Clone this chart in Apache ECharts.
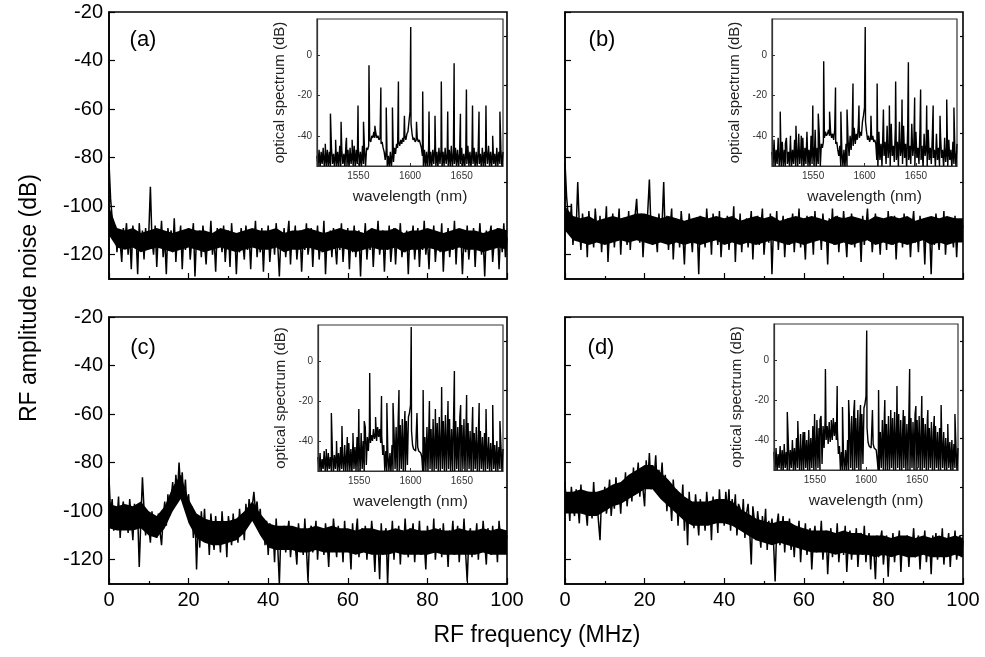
<!DOCTYPE html>
<html><head><meta charset="utf-8">
<script src="https://cdn.jsdelivr.net/npm/echarts@6/dist/echarts.min.js"></script>
<style>html,body{margin:0;padding:0;background:#fff}#c{width:985px;height:657px}</style>
</head><body><div id="c"></div>
<script>
const FONT = '"Liberation Sans", Arial, sans-serif';

// ---------- axes / ticks ----------
const rfStep = 0.4;              // MHz between RF noise samples
const coreStep = 2;              // MHz between dense-band edge readings
const wlStart = 1510, wlStep = 1; // nm, optical floor samples
const noiseTicks = [-120, -100, -80, -60, -40, -20];
const noiseMinorTicks = [-110, -90, -70, -50, -30];
const wlTicks = [1550, 1600, 1650];
const specTicks = [-40, -20, 0];
const panelLabels = ['(a)', '(b)', '(c)', '(d)'];

// ---------- RF amplitude noise (dB), x = i * 0.4 MHz ----------
const noiseA = [
-82,-97,-105,-113,-108,-119,-110,-115,-123,-109,
-114,-107,-120,-111,-126,-108,-116,-112,-128,-107,
-117,-110,-122,-109,-118,-111,-92,-114,-120,-108,
-125,-111,-117,-106,-121,-113,-128,-109,-115,-110,
-119,-105,-123,-112,-116,-108,-126,-111,-118,-113,
-109,-122,-114,-107,-129,-112,-117,-110,-121,-108,
-115,-124,-111,-118,-106,-120,-113,-127,-109,-116,
-112,-119,-108,-123,-114,-110,-125,-107,-117,-111,
-128,-113,-119,-109,-115,-122,-108,-118,-112,-126,
-110,-116,-106,-121,-113,-119,-109,-127,-111,-117,
-108,-123,-114,-110,-120,-107,-116,-129,-112,-118,
-109,-121,-113,-106,-124,-111,-117,-108,-122,-114,
-110,-127,-112,-118,-107,-120,-115,-109,-125,-111,
-116,-108,-122,-113,-119,-106,-128,-112,-117,-110,
-121,-109,-115,-124,-111,-118,-107,-123,-113,-116,
-109,-126,-112,-119,-108,-121,-114,-110,-129,-111,
-117,-107,-122,-113,-118,-109,-125,-112,-116,-106,
-120,-114,-110,-127,-111,-118,-108,-123,-115,-109,
-124,-112,-117,-107,-121,-113,-119,-110,-128,-111,
-116,-108,-122,-114,-109,-125,-112,-118,-106,-120,
-113,-126,-110,-117,-108,-123,-114,-111,-119,-107,
-127,-112,-116,-109,-121,-113,-118,-106,-124,-111,
-115,-110,-128,-112,-119,-108,-122,-114,-117,-109,
-125,-111,-116,-107,-120,-113,-129,-110,-118,-112,
-108,-123,-114,-117,-109,-126,-111,-119,-107,-121,
-113];
const noiseB = [
-82,-96,-104,-111,-99,-116,-106,-110,-90,-108,
-118,-103,-112,-106,-121,-102,-113,-108,-117,-101,
-110,-115,-104,-119,-107,-112,-100,-123,-109,-114,
-103,-117,-108,-111,-101,-120,-106,-113,-109,-116,
-102,-118,-107,-112,-104,-97,-110,-115,-103,-121,
-108,-113,-102,-89,-109,-116,-105,-111,-119,-103,
-112,-107,-90,-114,-104,-118,-109,-101,-122,-108,
-113,-106,-117,-102,-111,-124,-107,-115,-103,-110,
-119,-105,-112,-108,-128,-104,-114,-109,-117,-101,
-111,-106,-120,-103,-113,-108,-116,-102,-121,-110,
-107,-114,-104,-118,-109,-112,-100,-123,-106,-115,
-103,-119,-108,-111,-105,-117,-110,-102,-122,-107,
-113,-104,-116,-109,-101,-120,-111,-106,-115,-103,
-128,-108,-114,-102,-118,-107,-112,-104,-121,-109,
-105,-116,-110,-103,-119,-108,-113,-101,-117,-106,
-111,-122,-104,-115,-109,-107,-120,-102,-114,-110,
-106,-118,-103,-112,-108,-124,-105,-113,-101,-116,
-109,-104,-119,-107,-114,-102,-111,-121,-106,-115,
-103,-110,-117,-105,-112,-108,-123,-104,-116,-109,
-101,-114,-106,-119,-110,-103,-115,-108,-120,-105,
-112,-107,-118,-102,-113,-109,-116,-104,-122,-108,
-111,-105,-117,-103,-114,-110,-106,-121,-109,-102,
-115,-108,-119,-104,-112,-107,-124,-105,-113,-110,
-128,-106,-116,-103,-111,-118,-108,-114,-102,-120,
-109,-105,-115,-110,-117,-104,-121,-107,-113,-111,
-108];
const noiseC = [
-86,-101,-95,-108,-98,-104,-94,-111,-100,-96,
-106,-99,-109,-95,-103,-112,-97,-105,-101,-123,
-104,-86,-99,-110,-102,-107,-113,-100,-109,-104,
-111,-101,-108,-114,-103,-96,-106,-93,-102,-95,
-88,-98,-85,-93,-80,-91,-84,-96,-87,-100,
-93,-105,-98,-111,-101,-124,-103,-115,-100,-110,
-99,-113,-104,-118,-101,-109,-116,-102,-112,-106,
-117,-100,-110,-105,-119,-102,-108,-114,-101,-111,
-104,-113,-99,-108,-103,-112,-97,-106,-95,-101,
-98,-92,-100,-96,-105,-99,-110,-103,-114,-104,
-118,-105,-112,-107,-121,-103,-115,-130,-108,-113,
-106,-117,-109,-104,-119,-111,-107,-114,-122,-105,
-112,-108,-118,-103,-115,-129,-110,-106,-117,-111,
-104,-120,-109,-114,-107,-118,-105,-112,-123,-108,
-115,-103,-111,-119,-106,-113,-109,-121,-104,-116,
-108,-112,-124,-105,-117,-110,-103,-119,-111,-107,
-114,-106,-120,-109,-116,-104,-112,-125,-108,-113,
-128,-105,-118,-110,-107,-130,-111,-115,-104,-120,
-109,-113,-106,-122,-108,-116,-103,-114,-119,-107,
-111,-105,-121,-110,-115,-104,-118,-109,-113,-124,
-106,-112,-108,-117,-103,-120,-111,-114,-107,-119,
-105,-116,-110,-123,-108,-113,-104,-118,-112,-106,
-121,-109,-115,-103,-117,-129,-111,-107,-119,-110,
-114,-105,-120,-108,-116,-104,-113,-122,-107,-111,
-118,-106,-115,-109,-121,-104,-112,-117,-108,-114,
-110];
const noiseD = [
-88,-100,-93,-104,-90,-98,-102,-91,-97,-105,
-89,-101,-94,-99,-106,-92,-97,-103,-88,-100,
-95,-104,-112,-93,-99,-90,-101,-96,-87,-102,
-94,-99,-86,-97,-91,-101,-88,-95,-84,-98,
-90,-85,-96,-82,-93,-88,-80,-94,-84,-91,
-98,-79,-88,-76,-91,-81,-86,-77,-92,-83,
-89,-80,-95,-85,-100,-88,-93,-104,-87,-98,
-91,-106,-93,-100,-89,-108,-96,-114,-92,-103,
-97,-107,-93,-102,-110,-95,-104,-99,-108,-92,
-101,-96,-112,-94,-105,-98,-109,-91,-103,-97,
-106,-92,-100,-91,-108,-95,-102,-93,-110,-97,
-99,-106,-95,-111,-101,-97,-108,-122,-98,-104,
-112,-100,-107,-115,-102,-109,-99,-116,-104,-110,
-103,-113,-129,-106,-101,-114,-108,-102,-117,-105,
-111,-103,-116,-108,-119,-106,-112,-104,-121,-109,
-114,-105,-118,-110,-107,-124,-112,-106,-117,-109,
-115,-104,-120,-111,-108,-126,-113,-107,-119,-110,
-116,-105,-121,-112,-109,-118,-106,-125,-113,-108,
-120,-111,-115,-107,-123,-112,-109,-118,-106,-121,
-113,-109,-124,-111,-116,-128,-110,-119,-112,-108,
-122,-114,-110,-127,-113,-117,-109,-121,-112,-115,
-108,-125,-111,-118,-114,-110,-123,-112,-116,-107,
-119,-113,-110,-124,-112,-117,-108,-121,-114,-111,
-126,-110,-116,-109,-120,-113,-118,-107,-122,-112,
-115,-109,-123,-111,-117,-108,-120,-114,-110,-119,
-112];

// ---------- dense band of each trace (dB), x = i * 2 MHz ----------
const coreTopA = [-100,-109,-110,-109,-111,-110,-109,-110,-111,-110,
 -109,-110,-110,-111,-109,-110,-111,-110,-109,-110,
 -110,-109,-111,-110,-110,-109,-110,-111,-110,-109,
 -110,-110,-111,-109,-110,-110,-109,-111,-110,-110,
 -109,-110,-111,-110,-109,-110,-110,-111,-110,-109,
 -110];
const coreBotA = [-112,-117,-118,-117,-119,-118,-117,-118,-119,-118,
 -117,-118,-119,-118,-117,-118,-119,-118,-117,-118,
 -118,-117,-119,-118,-118,-117,-118,-119,-118,-117,
 -118,-119,-118,-117,-118,-118,-117,-119,-118,-118,
 -117,-118,-119,-118,-117,-118,-118,-119,-118,-117,
 -118];
const coreTopB = [-100,-104,-105,-104,-106,-105,-104,-105,-104,-103,
 -103,-104,-105,-104,-105,-106,-105,-104,-105,-104,
 -105,-104,-106,-105,-104,-105,-104,-106,-105,-104,
 -105,-104,-105,-106,-104,-105,-104,-105,-106,-104,
 -105,-104,-105,-104,-106,-105,-104,-105,-104,-105,
 -105];
const coreBotB = [-110,-114,-115,-116,-115,-116,-115,-114,-115,-114,
 -115,-116,-115,-116,-115,-116,-115,-116,-115,-114,
 -116,-115,-116,-115,-116,-115,-114,-115,-116,-115,
 -116,-115,-114,-115,-116,-115,-116,-115,-114,-116,
 -115,-116,-115,-116,-115,-114,-116,-115,-116,-115,
 -115];
const coreTopC = [-97,-98,-97,-98,-96,-100,-102,-98,-90,-85,
 -95,-101,-103,-104,-104,-104,-103,-100,-96,-101,
 -105,-106,-106,-106,-107,-107,-106,-107,-106,-107,
 -107,-108,-107,-107,-108,-108,-107,-108,-107,-108,
 -108,-107,-108,-108,-107,-108,-108,-107,-108,-107,
 -108];
const coreBotC = [-107,-108,-108,-108,-107,-110,-111,-107,-100,-95,
 -105,-111,-113,-114,-114,-113,-112,-109,-104,-110,
 -115,-116,-116,-116,-117,-117,-116,-117,-117,-117,
 -117,-118,-117,-118,-118,-118,-117,-118,-118,-118,
 -118,-117,-118,-118,-118,-118,-118,-117,-118,-118,
 -118];
const coreTopD = [-92,-92,-91,-92,-92,-91,-89,-88,-85,-83,
 -81,-81,-84,-87,-91,-94,-96,-96,-96,-95,
 -95,-96,-99,-101,-103,-104,-105,-104,-104,-106,
 -107,-108,-108,-108,-109,-108,-109,-109,-110,-110,
 -110,-111,-110,-110,-111,-110,-111,-110,-111,-110,
 -111];
const coreBotD = [-101,-101,-101,-102,-102,-100,-98,-97,-95,-93,
 -91,-91,-95,-98,-101,-104,-106,-106,-106,-105,
 -105,-106,-108,-110,-112,-113,-114,-113,-114,-115,
 -116,-117,-117,-117,-118,-117,-118,-118,-118,-119,
 -118,-119,-118,-119,-119,-118,-119,-119,-119,-118,
 -119];

// ---------- optical spectra (insets) ----------
const combPos = [1518,1523,1528,1533.3,1538.5,1544,1549.7,1555,1560.3,1566,1571.8,1577,1583,1588.8,1594.6,
  1600.7,1606.3,1612.3,1618.4,1624.2,1630.3,1636.5,1642.7,1648.8,1654.6,1660.5,1666.8,1673.5,1680,1687];
const peakA = [-44,-29,-42,-33,-41,-42,-25,-33,-5,-35,-16,-26,-26,-13,-30,14,-33,-18,-28,-30,-13,-28,-4,-29,-17,-25,-28,-25,-40,-28];
const peakB = [-28,-44,-42,-35,-40,-38,-25,-29,-3,-28,-16,-28,-27,-14,-25,14,-30,-14,-27,-25,-13,-22,-3.5,-21,-17,-25,-25,-30,-22,-26];
const peakC = [-44,-26,-40,-32.5,-38,-36,-24,-30,-6,-28,-17.5,-21,-21,-14.5,-25,17,-26,-14.5,-20,-24,-13,-20,-5,-22,-17,-23,-21,-24,-22,-30];
const peakD = [-44,-26,-40,-30.5,-36,-34,-27,-30,-4.5,-30,-13,-23.5,-20,-20,-22.5,14.7,-25,-15,-20,-25,-13,-25,-4.5,-23,-18,-25,-28,-22.5,-32,-27];

const floorA = [
-50,-55,-47,-56,-48,-54,-46,-55,-49,-56,
-47,-55,-48,-56,-46,-54,-49,-56,-47,-55,
-48,-56,-45,-55,-47,-54,-49,-56,-44,-55,
-47,-56,-46,-54,-48,-55,-45,-56,-47,-54,
-46,-55,-48,-56,-45,-54,-47,-55,-46,-47,
-45,-42,-43,-40,-41,-38,-41,-39,-41,-40,
-42,-41,-44,-43,-46,-48,-52,-47,-56,-50,
-55,-48,-56,-47,-53,-46,-49,-44,-46,-43,
-45,-42,-44,-41,-43,-40,-42,-39,-38,-33,
-28,-34,-39,-42,-41,-43,-42,-41,-43,-42,
-44,-46,-50,-56,-47,-55,-48,-56,-46,-55,
-48,-56,-47,-54,-45,-55,-48,-56,-46,-54,
-47,-56,-48,-55,-46,-54,-49,-56,-47,-55,
-45,-56,-48,-54,-46,-55,-47,-56,-48,-54,
-46,-55,-49,-56,-47,-54,-45,-55,-48,-56,
-47,-54,-46,-56,-48,-55,-47,-54,-49,-56,
-46,-55,-48,-56,-47,-54,-45,-55,-48,-56,
-47,-54,-49,-56,-46,-55,-48,-54,-47,-56,
-48];
const floorB = [
-48,-55,-42,-56,-47,-54,-41,-55,-48,-56,
-43,-55,-47,-56,-41,-54,-48,-55,-40,-56,
-47,-54,-42,-55,-46,-56,-39,-54,-47,-55,
-41,-56,-46,-54,-38,-55,-47,-56,-40,-54,
-45,-55,-37,-56,-46,-54,-39,-55,-44,-46,
-43,-41,-38,-40,-39,-37,-40,-38,-41,-39,
-42,-37,-44,-43,-47,-50,-45,-56,-48,-55,
-47,-56,-44,-55,-42,-50,-40,-47,-38,-45,
-36,-44,-39,-42,-35,-41,-38,-40,-33,-30,
-26,-33,-38,-42,-40,-43,-41,-42,-40,-43,
-42,-44,-52,-56,-38,-52,-44,-55,-36,-50,
-43,-54,-35,-51,-44,-55,-34,-50,-45,-53,
-36,-52,-43,-55,-33,-50,-46,-54,-35,-51,
-44,-56,-37,-52,-45,-54,-34,-50,-44,-55,
-38,-51,-46,-54,-36,-52,-45,-56,-39,-50,
-45,-55,-37,-52,-46,-54,-40,-51,-47,-55,
-39,-52,-46,-55,-40,-51,-47,-56,-41,-53,
-46,-55,-42,-52,-47,-56,-43,-54,-48,-55,
-44];
const floorC = [
-48,-55,-46,-56,-49,-54,-45,-55,-47,-56,
-46,-54,-48,-55,-45,-56,-47,-54,-44,-55,
-46,-56,-43,-54,-47,-55,-42,-56,-45,-55,
-41,-55,-44,-56,-40,-54,-43,-55,-38,-56,
-41,-55,-36,-54,-40,-56,-33,-52,-38,-45,
-35,-41,-37,-40,-34,-39,-36,-40,-33,-38,
-34,-41,-37,-47,-42,-55,-45,-56,-47,-55,
-46,-56,-42,-55,-36,-54,-33,-56,-30,-55,
-32,-54,-29,-56,-33,-55,-30,-52,-28,-26,
-22,-35,-42,-44,-43,-45,-44,-43,-45,-44,
-46,-48,-56,-55,-38,-55,-33,-56,-30,-54,
-34,-56,-29,-55,-35,-54,-31,-56,-28,-55,
-33,-54,-30,-56,-27,-55,-32,-54,-29,-56,
-34,-55,-56,-56,-30,-54,-33,-56,-28,-55,
-32,-54,-29,-56,-34,-55,-31,-54,-35,-56,
-32,-55,-36,-54,-33,-56,-37,-55,-35,-54,
-38,-56,-36,-55,-40,-54,-38,-56,-41,-55,
-39,-54,-42,-56,-40,-55,-43,-54,-42,-56,
-44];
const floorD = [
-46,-55,-44,-56,-47,-54,-43,-55,-45,-56,
-42,-54,-46,-55,-41,-56,-45,-54,-40,-55,
-44,-56,-39,-54,-43,-55,-37,-56,-42,-55,
-36,-54,-40,-56,-35,-55,-39,-54,-33,-56,
-37,-55,-30,-54,-34,-56,-28,-52,-33,-44,
-30,-40,-33,-42,-31,-41,-34,-40,-29,-38,
-31,-40,-35,-47,-43,-55,-46,-56,-48,-55,
-45,-56,-40,-55,-32,-54,-28,-56,-26,-55,
-29,-54,-25,-56,-30,-55,-27,-52,-24,-22,
-18,-34,-41,-43,-42,-44,-43,-42,-44,-43,
-45,-50,-56,-55,-36,-54,-30,-56,-27,-55,
-32,-56,-28,-55,-33,-54,-29,-56,-26,-55,
-31,-54,-27,-56,-30,-55,-33,-54,-28,-56,
-32,-55,-56,-56,-29,-54,-31,-56,-27,-55,
-30,-54,-28,-56,-33,-55,-29,-54,-32,-56,
-30,-55,-34,-54,-31,-56,-35,-55,-33,-54,
-36,-56,-34,-55,-37,-54,-36,-56,-39,-55,
-38,-54,-41,-56,-40,-55,-42,-54,-43,-56,
-44];

// ---------- build helpers ----------
function rfData(arr) { return arr.map((v, i) => [Math.round(i * rfStep * 10) / 10, v]); }
function specData(floor, peaks) {
  const pts = floor.map((v, i) => [wlStart + i * wlStep, v]);
  combPos.forEach((p, k) => { if (peaks[k] != null) pts.push([p, peaks[k]]); });
  pts.sort((a, b) => a[0] - b[0]);
  return pts;
}
// band between two read edges, drawn through the axis scales (api.coord)
function bandRender(top, bot) {
  return function (params, api) {
    if (params.dataIndex !== 0) return null;
    const up = top.map((v, i) => api.coord([i * coreStep, v]));
    const dn = bot.map((v, i) => api.coord([i * coreStep, v])).reverse();
    return { type:'polygon', shape:{ points: up.concat(dn) }, style:{ fill:'#000' } };
  };
}

const panels = [
  { noise: noiseA, top: coreTopA, bot: coreBotA, floor: floorA, peaks: peakA, main: {left:109, top:12, width:398, height:267}, inset: {left:317, top:19, width:186, height:147}, showX:false, showY:true, lab:[143,40] },
  { noise: noiseB, top: coreTopB, bot: coreBotB, floor: floorB, peaks: peakB, main: {left:565, top:12, width:398, height:267}, inset: {left:772, top:19, width:185, height:147}, showX:false, showY:false, lab:[602,40] },
  { noise: noiseC, top: coreTopC, bot: coreBotC, floor: floorC, peaks: peakC, main: {left:109, top:317, width:398, height:267}, inset: {left:318, top:325, width:185, height:146}, showX:true, showY:true, lab:[143,348] },
  { noise: noiseD, top: coreTopD, bot: coreBotD, floor: floorD, peaks: peakD, main: {left:565, top:317, width:398, height:267}, inset: {left:774, top:324, width:184, height:146}, showX:true, showY:false, lab:[601,348] }
];

const grid = [], xAxis = [], yAxis = [], series = [], graphic = [];
function txt(x, y, text, size, color, rot) {
  return { type:'text', x:x, y:y, rotation: rot || 0, z: 20,
    style: { text:text, font: size + 'px ' + FONT, fill: color,
      align:'center', verticalAlign:'middle', textAlign:'center', textVerticalAlign:'middle' } };
}
const plain = v => String(v);

panels.forEach((p, k) => {
  const gMain = grid.length;
  grid.push(Object.assign({ show:true, borderColor:'#000', borderWidth:1.6, backgroundColor:'transparent', z:0 }, p.main));
  const gIn = grid.length;
  grid.push(Object.assign({ show:true, borderColor:'#333', borderWidth:1.2, backgroundColor:'#fff', z:3 }, p.inset));

  const xm = xAxis.length;
  xAxis.push({ type:'value', gridIndex:gMain, min:0, max:100, interval:20, z:4,
    axisLine:{ show:true, onZero:false, lineStyle:{ color:'#000', width:1.6 } },
    axisTick:{ show:true, inside:true, length:6, lineStyle:{ color:'#000', width:1.2 } },
    minorTick:{ show:true, splitNumber:2, length:3, lineStyle:{ color:'#000', width:1.2 } },
    axisLabel:{ show:p.showX, fontSize:20, fontFamily:FONT, color:'#000', margin:6 },
    splitLine:{ show:false } });
  const xi = xAxis.length;
  xAxis.push({ type:'value', gridIndex:gIn, min:1510, max:1690, z:7,
    axisLine:{ show:true, onZero:false, lineStyle:{ color:'#333', width:1.2 } },
    axisTick:{ show:true, inside:true, length:3, customValues: wlTicks, lineStyle:{ color:'#333' } },
    axisLabel:{ show:true, customValues: wlTicks, formatter: plain, fontSize:10, fontFamily:FONT, color:'#333', margin:5 },
    splitLine:{ show:false } });

  const ym = yAxis.length;
  yAxis.push({ type:'value', gridIndex:gMain, min:-130, max:-20, z:4,
    axisLine:{ show:true, onZero:false, lineStyle:{ color:'#000', width:1.6 } },
    axisTick:{ show:true, inside:true, length:6, customValues: noiseTicks, lineStyle:{ color:'#000', width:1.2 } },
    axisLabel:{ show:p.showY, customValues: noiseTicks, fontSize:20, fontFamily:FONT, color:'#000', margin:6 },
    splitLine:{ show:false } });
  yAxis.push({ type:'value', gridIndex:gMain, min:-130, max:-20, z:4,
    axisLine:{ show:false, onZero:false },
    axisTick:{ show:true, inside:true, length:3, customValues: noiseMinorTicks, lineStyle:{ color:'#000', width:1.2 } },
    axisLabel:{ show:false },
    splitLine:{ show:false } });
  const yi = yAxis.length;
  yAxis.push({ type:'value', gridIndex:gIn, min:-55, max:18, z:7,
    axisLine:{ show:true, onZero:false, lineStyle:{ color:'#333', width:1.2 } },
    axisTick:{ show:true, inside:true, length:3, customValues: specTicks, lineStyle:{ color:'#333' } },
    axisLabel:{ show:true, customValues: specTicks, fontSize:10, fontFamily:FONT, color:'#333', margin:5 },
    splitLine:{ show:false } });

  series.push({ type:'custom', xAxisIndex:xm, yAxisIndex:ym,
    data: p.top.map((v, i) => [i * coreStep, v, p.bot[i]]), encode:{ x:0, y:[1, 2] },
    renderItem: bandRender(p.top, p.bot), z:1, silent:true });
  series.push({ type:'line', xAxisIndex:xm, yAxisIndex:ym, data: rfData(p.noise), symbol:'none',
    lineStyle:{ color:'#000', width:1.5, join:'bevel' }, z:2, clip:true, silent:true });
  series.push({ type:'line', xAxisIndex:xi, yAxisIndex:yi, data: specData(p.floor, p.peaks), symbol:'none',
    lineStyle:{ color:'#000', width:1.4, join:'bevel' }, z:6, clip:true, silent:true });

  graphic.push(txt(p.lab[0], p.lab[1], panelLabels[k], 22, '#000'));
  graphic.push(txt(p.inset.left - 37, p.inset.top + p.inset.height / 2, 'optical spectrum (dB)', 15, '#222', Math.PI / 2));
  graphic.push(txt(p.inset.left + p.inset.width / 2, p.inset.top + p.inset.height + 30.5, 'wavelength (nm)', 15.5, '#222'));
});

graphic.push(txt(537, 636, 'RF frequency (MHz)', 23, '#000'));
graphic.push(txt(30, 298, 'RF amplitude noise (dB)', 23, '#000', Math.PI / 2));

const chart = echarts.init(document.getElementById('c'), null, { renderer:'canvas' });
chart.setOption({ animation:false, backgroundColor:'#fff', textStyle:{ fontFamily:FONT },
  grid, xAxis, yAxis, series, graphic });
</script></body></html>
